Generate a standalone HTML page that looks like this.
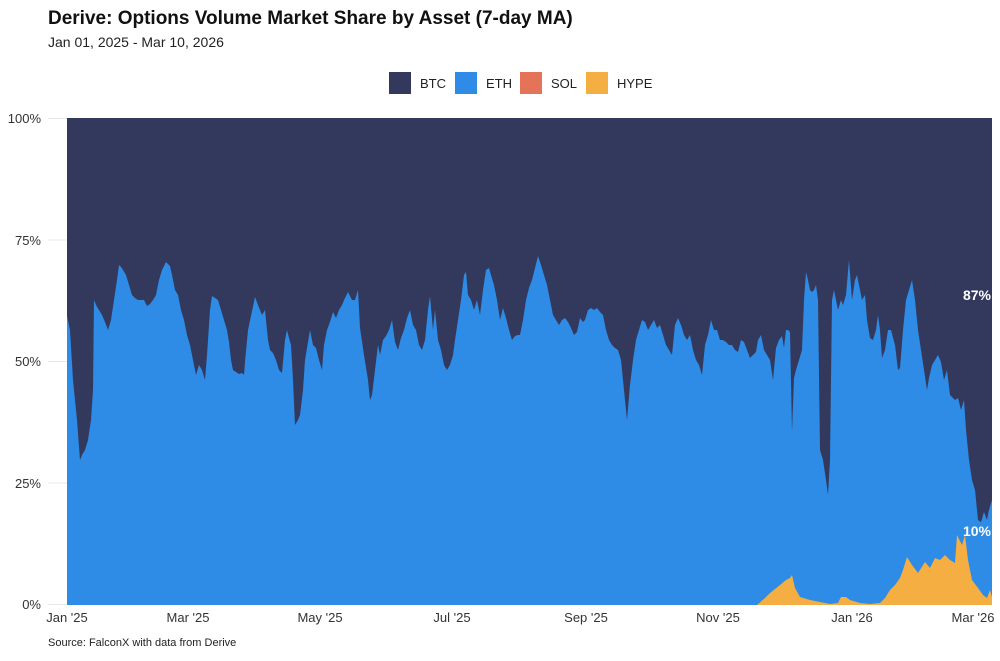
<!DOCTYPE html>
<html><head><meta charset="utf-8"><style>
body{margin:0;width:1000px;height:656px;background:#fff;font-family:"Liberation Sans",sans-serif;overflow:hidden}
</style></head><body>
<svg id="s" width="1000" height="656" xmlns="http://www.w3.org/2000/svg" font-family="Liberation Sans, sans-serif">
<text x="48" y="24" font-size="19" font-weight="bold" fill="#111">Derive: Options Volume Market Share by Asset (7-day MA)</text>
<text x="48" y="47" font-size="14" fill="#222">Jan 01, 2025 - Mar 10, 2026</text>
<rect x="389" y="72" width="22" height="22" fill="#32395c"/><text x="420" y="88" font-size="13" fill="#222">BTC</text>
<rect x="455" y="72" width="22" height="22" fill="#2e8be6"/><text x="486" y="88" font-size="13" fill="#222">ETH</text>
<rect x="520" y="72" width="22" height="22" fill="#e5735a"/><text x="551" y="88" font-size="13" fill="#222">SOL</text>
<rect x="586" y="72" width="22" height="22" fill="#f5ae42"/><text x="617" y="88" font-size="13" fill="#222">HYPE</text>
<g stroke="#e8e8e8" stroke-width="1">
<line x1="48" x2="992" y1="118.5" y2="118.5"/><line x1="48" x2="992" y1="240" y2="240"/><line x1="48" x2="992" y1="361.5" y2="361.5"/><line x1="48" x2="992" y1="483" y2="483"/><line x1="48" x2="992" y1="604.5" y2="604.5"/>
</g>
<g font-size="13" fill="#333" text-anchor="end">
<text x="41" y="123">100%</text><text x="41" y="245">75%</text><text x="41" y="366">50%</text><text x="41" y="488">25%</text><text x="41" y="609">0%</text>
</g>
<rect x="67" y="118" width="925" height="487" fill="#32395c"/>
<path id="eth" fill="#2e8be6"/>
<path id="hype" fill="#f5ae42"/>
<g font-size="13" fill="#333" text-anchor="middle">
<text x="67" y="622">Jan '25</text><text x="188" y="622">Mar '25</text><text x="320" y="622">May '25</text><text x="452" y="622">Jul '25</text><text x="586" y="622">Sep '25</text><text x="718" y="622">Nov '25</text><text x="852" y="622">Jan '26</text><text x="973" y="622">Mar '26</text>
</g>
<text x="991" y="300" font-size="14" font-weight="bold" fill="#fff" text-anchor="end">87%</text>
<text x="991" y="536" font-size="14" font-weight="bold" fill="#fff" text-anchor="end">10%</text>
<text x="48" y="646" font-size="11" fill="#222">Source: FalconX with data from Derive</text>
</svg>
<script>
var e="67,316 70,330 73,380 77,420 80,460 82,455 85,450 88,440 91,420 93,390 94,300 96,305 99,310 102,315 105,322 108,330 111,320 114,300 117,280 119,265 121,267 123,270 126,275 129,285 132,295 135,298 138,300 141,300 144,300 147,306 150,304 153,300 156,295 159,280 162,270 166,262 170,266 172,275 175,290 178,295 181,310 184,320 187,335 190,345 193,360 196,375 199,365 202,370 205,380 207,355 210,310 212,296 215,298 218,300 221,310 224,320 227,330 229,342 231,360 233,370 236,372 239,374 242,373 244,375 245,362 248,330 255,297 258,305 262,315 265,310 268,340 270,350 273,353 276,360 279,370 282,373 285,340 287,330 289,338 291,345 293,380 295,425 298,420 300,415 303,390 305,360 310,330 313,345 316,348 319,360 322,370 324,345 327,330 330,322 333,312 336,318 339,310 342,305 345,298 348,292 350,296 352,300 355,300 358,290 360,328 364,355 368,380 370,400 372,395 375,370 378,345 380,355 383,340 386,336 389,330 392,320 395,342 398,350 401,338 404,330 407,318 410,310 413,325 416,330 419,345 422,350 425,340 428,310 430,296 433,330 435,310 438,340 441,350 444,365 447,370 450,365 453,355 455,340 458,320 461,300 464,275 466,272 468,295 471,300 474,310 477,300 480,315 483,290 486,270 489,268 491,275 494,285 497,300 500,320 503,308 506,318 509,330 512,340 515,336 518,335 520,335 523,320 526,300 529,288 532,280 535,268 538,256 541,265 544,275 547,285 550,300 553,315 556,320 559,325 562,320 565,318 568,322 571,328 574,335 577,332 580,318 583,322 585,320 588,310 591,308 594,310 597,308 600,312 603,315 606,330 609,340 612,345 615,348 618,350 621,360 624,390 627,420 630,385 633,360 636,340 639,330 642,320 645,322 648,330 651,325 654,320 657,328 660,325 663,335 666,345 669,350 672,355 675,325 678,318 681,325 684,335 687,340 690,335 693,350 696,360 699,365 702,375 705,345 708,335 711,320 714,330 717,330 720,340 723,340 726,342 729,345 732,345 735,350 738,352 741,340 744,342 747,350 750,358 753,355 756,352 758,340 761,335 764,350 767,355 770,360 773,380 776,348 779,340 782,336 784,348 786,330 788,330 790,332 792,432 794,378 796,370 799,360 802,350 804,300 806,272 808,280 810,290 812,292 814,290 816,285 818,300 820,450 823,460 826,480 828,495 830,460 832,300 834,290 836,300 838,310 841,300 843,305 846,295 849,260 852,300 855,280 857,275 860,290 862,300 865,295 867,320 870,338 873,340 876,330 878,315 880,330 882,358 885,350 888,330 891,330 895,345 898,370 900,368 903,330 906,300 909,290 912,280 915,300 918,330 921,350 924,370 927,390 929,378 932,365 935,360 938,355 941,362 944,380 947,370 950,395 953,398 955,400 958,398 961,410 964,400 966,430 969,460 972,480 975,490 978,520 981,522 984,512 987,520 989,510 992,500";
var h="757,605 765,598 770,593 780,585 786,580 790,578 792,575 795,588 800,597 810,600 820,602 830,604 838,603 841,597 846,597 850,600 860,603 870,604 880,603 885,598 890,590 895,585 900,578 903,570 907,557 912,565 918,573 925,562 930,568 935,558 940,560 945,555 950,560 955,563 957,535 962,545 965,535 968,560 972,580 978,588 983,595 987,598 990,590 992,597";
document.getElementById("eth").setAttribute("d","M"+e.replace(/ /g," L")+" L992,605 L67,605Z");
document.getElementById("hype").setAttribute("d","M"+h.replace(/ /g," L")+" L992,605 L757,605Z");
</script>
</body></html>
